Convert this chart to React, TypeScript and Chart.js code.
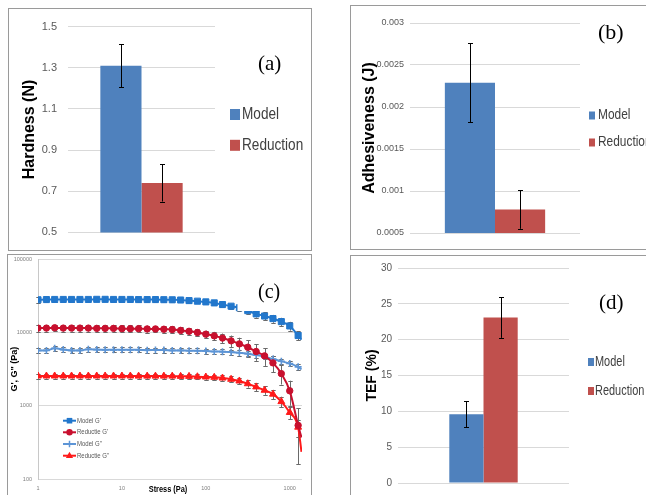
import React, { useEffect, useRef } from 'react';
import { Chart, registerables } from 'chart.js';

Chart.register(...registerables);

// ---------------- data ----------------
const barCategories = [''];
const seriesNames = ['Model', 'Reduction'];

const hardness = [1.31, 0.74];
const hardnessErr = [0.105, 0.09];
const hardnessTicks = [0.5, 0.7, 0.9, 1.1, 1.3, 1.5];

const adhesiveness = [0.00229, 0.00078];
const adhesivenessErr = [0.00047, 0.00023];
const adhesivenessTicks = [0.0005, 0.001, 0.0015, 0.002, 0.0025, 0.003];

const tef = [9.6, 23.1];
const tefErr = [1.8, 2.85];
const tefTicks = [0, 5, 10, 15, 20, 25, 30];

const lineNames = ["Model G'", "Reductie G'", 'Model G"', 'Reductie G"'];
const stress = [
  1, 1.26, 1.58, 2, 2.51, 3.16, 3.98, 5.01, 6.31, 7.94, 10, 12.6, 15.8, 20, 25.1, 31.6,
  39.8, 50.1, 63.1, 79.4, 100, 126, 158, 200, 251, 316, 398, 501, 631, 794, 1000, 1259,
];
const modelGp = [
  28000, 28200, 28300, 28300, 28300, 28300, 28300, 28400, 28400, 28300, 28300, 28300, 28200, 28200,
  28200, 28100, 28000, 27800, 27300, 26800, 26200, 25400, 24100, 22900, 21800, 19900, 18000, 16800,
  15500, 14100, 12300, 9100,
];
const modelGpErr = [
  2400, 1800, 1800, 1800, 1800, 1800, 1800, 1800, 1800, 1800, 1800, 1800, 1800, 1800, 1800, 1800,
  1800, 1800, 1800, 1800, 1800, 1800, 1800, 1800, 1900, 1900, 2000, 2000, 1900, 1800, 1700, 1300,
];
const reductieGp = [
  11500, 11500, 11600, 11500, 11500, 11500, 11500, 11400, 11400, 11400, 11300, 11300, 11300, 11200,
  11200, 11100, 11000, 10700, 10400, 10000, 9500, 9000, 8400, 7700, 7000, 6300, 5500, 4800, 3850,
  2750, 1600, 540,
];
const reductieGpErr = [
  1200, 1200, 1200, 1200, 1200, 1200, 1200, 1200, 1200, 1200, 1200, 1200, 1200, 1200, 1100, 1100,
  1100, 1100, 1100, 1100, 1100, 1200, 1300, 1400, 1500, 1500, 1400, 1300, 1000, 800, 600, 380,
];
const modelGpp = [
  5700, 5700, 6100, 5850, 5700, 5700, 5900, 5850, 5800, 5800, 5800, 5800, 5800, 5750, 5770, 5770,
  5700, 5700, 5650, 5650, 5600, 5500, 5480, 5400, 5300, 5150, 4930, 4690, 4360, 4060, 3770, 3400,
];
const modelGppErr = [
  450, 450, 450, 450, 450, 450, 450, 450, 450, 450, 450, 450, 450, 450, 450, 450, 450, 450, 450,
  450, 450, 450, 450, 450, 450, 450, 400, 400, 380, 350, 330, 300,
];
const reductieGpp = [
  2550, 2550, 2550, 2550, 2550, 2550, 2550, 2550, 2550, 2550, 2550, 2550, 2540, 2540, 2540, 2540,
  2540, 2520, 2520, 2490, 2470, 2450, 2390, 2300, 2180, 2000, 1810, 1630, 1440, 1140, 810, 510,
];
const reductieGppErr = [
  200, 200, 200, 200, 200, 200, 200, 200, 200, 200, 200, 200, 200, 200, 200, 200, 200, 200, 200,
  200, 200, 200, 200, 210, 220, 230, 230, 220, 210, 190, 160, 130,
];
const trendEndStress = 1380;
const trendEnd = [8000, 370, 3130, 235];
const stressTicks = [1, 10, 100, 1000];
const modulusTicks = [100, 1000, 10000, 100000];

// ---------------- styling ----------------
const SANS = '"Liberation Sans", Arial, sans-serif';
const SERIF = '"Liberation Serif", "Times New Roman", serif';
const BAR_COLORS = ['#4f81bd', '#c0504d'];
const LINE_COLORS = ['#2277cc', '#c8102e', '#5d95d6', '#ff1a1a'];
const LINE_MARKERS = ['rect', 'circle', 'cross', 'triangle'];

type Box = { x: number; y: number; w: number; h: number };
type Area = { l: number; t: number; r: number; b: number };

function drawErr(chart: any, o: any) {
  const ctx = chart.ctx;
  ctx.save();
  ctx.strokeStyle = o.color;
  ctx.lineWidth = o.width || 1;
  chart.data.datasets.forEach((ds: any, di: number) => {
    const errs = ds.errors;
    if (!errs) return;
    const meta = chart.getDatasetMeta(di);
    const ys = chart.scales[meta.yAxisID];
    meta.data.forEach((el: any, i: number) => {
      const e = errs[i];
      if (e == null) return;
      const raw = ds.data[i];
      const v = typeof raw === 'number' ? raw : raw.y;
      const x = Math.round(el.x) + 0.5;
      const y1 = ys.getPixelForValue(v + e);
      const y2 = ys.getPixelForValue(v - e);
      ctx.beginPath();
      ctx.moveTo(x, y1);
      ctx.lineTo(x, y2);
      ctx.moveTo(x - o.cap, Math.round(y1) + 0.5);
      ctx.lineTo(x + o.cap, Math.round(y1) + 0.5);
      ctx.moveTo(x - o.cap, Math.round(y2) + 0.5);
      ctx.lineTo(x + o.cap, Math.round(y2) + 0.5);
      ctx.stroke();
    });
  });
  ctx.restore();
}

const errorBars = {
  id: 'errorBars',
  beforeDatasetsDraw(chart: any, _a: any, o: any) {
    if (o && o.under) drawErr(chart, o);
  },
  afterDatasetsDraw(chart: any, _a: any, o: any) {
    if (o && !o.under) drawErr(chart, o);
  },
};

function drawMarker(ctx: CanvasRenderingContext2D, style: string, x: number, y: number, r: number, color: string) {
  ctx.save();
  ctx.fillStyle = color;
  ctx.strokeStyle = color;
  ctx.lineWidth = 1.5;
  ctx.beginPath();
  if (style === 'rect') {
    ctx.rect(x - r * 0.7, y - r * 0.7, r * 1.4, r * 1.4);
    ctx.fill();
  } else if (style === 'circle') {
    ctx.arc(x, y, r * 0.8, 0, Math.PI * 2);
    ctx.fill();
  } else if (style === 'triangle') {
    ctx.moveTo(x, y - r);
    ctx.lineTo(x + r * 0.9, y + r * 0.6);
    ctx.lineTo(x - r * 0.9, y + r * 0.6);
    ctx.closePath();
    ctx.fill();
  } else {
    ctx.moveTo(x - r * 0.8, y);
    ctx.lineTo(x + r * 0.8, y);
    ctx.moveTo(x, y - r * 0.8);
    ctx.lineTo(x, y + r * 0.8);
    ctx.stroke();
  }
  ctx.restore();
}

function squeezedText(
  ctx: CanvasRenderingContext2D,
  text: string,
  x: number,
  y: number,
  sx: number,
  align: CanvasTextAlign,
) {
  ctx.save();
  ctx.translate(x, y);
  ctx.scale(sx, 1);
  ctx.textAlign = align;
  ctx.textBaseline = 'middle';
  ctx.fillText(text, 0, 0);
  ctx.restore();
}

// decorations: legends, panel letters, extra titles
const deco = {
  id: 'deco',
  afterDraw(chart: any, _a: any, o: any) {
    const ctx = chart.ctx;
    ctx.save();
    if (o.whiteBox) {
      const b = o.whiteBox;
      ctx.fillStyle = '#ffffff';
      ctx.fillRect(b.x, b.y, b.w, b.h);
    }
    if (o.barLegend) {
      const L = o.barLegend;
      chart.data.datasets.forEach((ds: any, i: number) => {
        const y = L.rows[i];
        ctx.fillStyle = ds.backgroundColor;
        ctx.fillRect(L.boxX, y - L.boxH / 2, L.boxW, L.boxH);
        ctx.fillStyle = L.color;
        ctx.font = L.font;
        squeezedText(ctx, ds.label, L.textX, y, L.sx, 'left');
      });
    }
    if (o.lineLegend) {
      const L = o.lineLegend;
      chart.data.datasets.forEach((ds: any, i: number) => {
        const y = L.rows[i];
        ctx.strokeStyle = ds.borderColor;
        ctx.lineWidth = 2;
        ctx.beginPath();
        ctx.moveTo(L.x0, y);
        ctx.lineTo(L.x1, y);
        ctx.stroke();
        drawMarker(ctx, ds.pointStyle, (L.x0 + L.x1) / 2, y, 4, ds.borderColor);
        ctx.fillStyle = L.color;
        ctx.font = L.font;
        squeezedText(ctx, ds.label, L.textX, y, L.sx, 'left');
      });
    }
    if (o.texts) {
      o.texts.forEach((t: any) => {
        ctx.font = t.font;
        ctx.fillStyle = t.color || '#000';
        squeezedText(ctx, t.text, t.x, t.y, t.sx || 1, t.align || 'left');
      });
    }
    ctx.restore();
  },
};

function tickSetter(values: number[]) {
  return (s: any) => {
    s.ticks = values.map((v) => ({ value: v }));
  };
}

function barConfig(opts: {
  box: Box;
  area: Area;
  values: number[];
  errors: number[];
  ticks: number[];
  tickFont: number;
  tickPad: number;
  fmt: (v: number) => string;
  title: string;
  titleSize: number;
  titleCenterX: number;
  catPct: number;
  deco: any;
}) {
  const { box, area } = opts;
  const lh = opts.titleSize * 1.2;
  return {
    type: 'bar',
    data: {
      labels: barCategories,
      datasets: seriesNames.map((name, i) => ({
        label: name,
        data: [opts.values[i]],
        errors: [opts.errors[i]],
        backgroundColor: BAR_COLORS[i],
        borderWidth: 0,
        categoryPercentage: opts.catPct,
        barPercentage: 1,
      })),
    },
    options: {
      responsive: false,
      animation: false,
      devicePixelRatio: 1,
      layout: {
        padding: {
          left: 0,
          right: box.x + box.w - area.r,
          top: area.t - box.y,
          bottom: box.y + box.h - area.b,
        },
      },
      scales: {
        x: { display: false },
        y: {
          min: opts.ticks[0],
          max: opts.ticks[opts.ticks.length - 1],
          afterBuildTicks: tickSetter(opts.ticks),
          afterFit: (s: any) => {
            s.width = area.l - box.x;
          },
          ticks: {
            font: { family: SANS, size: opts.tickFont },
            color: '#595959',
            padding: opts.tickPad,
            callback: (v: any) => opts.fmt(Number(v)),
          },
          grid: { color: '#d9d9d9', drawTicks: false },
          border: { display: false },
          title: {
            display: true,
            text: opts.title,
            color: '#000',
            font: { family: SANS, size: opts.titleSize, weight: 'bold' },
            padding: { top: opts.titleCenterX - box.x - lh / 2, bottom: 0 },
          },
        },
      },
      plugins: {
        legend: { display: false },
        tooltip: { enabled: false },
        errorBars: { color: '#000', width: 1, cap: 2.5, under: false },
        deco: opts.deco,
      },
    },
    plugins: [errorBars, deco],
  };
}

function lineConfig() {
  const box: Box = { x: 8, y: 250, w: 303, h: 245 };
  const area: Area = { l: 38, t: 257, r: 302, b: 479 };
  const series = [modelGp, reductieGp, modelGpp, reductieGpp];
  const errs = [modelGpErr, reductieGpErr, modelGppErr, reductieGppErr];
  const radii = [4.3, 3.2, 3.5, 4];
  const titleSize = 9;
  const rel = (x: number, y: number) => ({ x: x - box.x, y: y - box.y });
  const legRows = [420.7, 432.3, 444, 455.7].map((y) => y - box.y);
  return {
    type: 'line',
    data: {
      datasets: series.map((vals, si) => ({
        label: lineNames[si],
        data: stress
          .map((s, i) => ({ x: s, y: vals[i] }))
          .concat([{ x: trendEndStress, y: trendEnd[si] }]),
        errors: errs[si],
        borderColor: LINE_COLORS[si],
        backgroundColor: LINE_COLORS[si],
        borderWidth: 2,
        cubicInterpolationMode: 'monotone',
        pointStyle: LINE_MARKERS[si],
        pointRadius: (c: any) => (c.dataIndex < stress.length ? radii[si] : 0),
        pointBorderWidth: si === 2 ? 1.6 : 1,
        pointBorderColor: LINE_COLORS[si],
        pointBackgroundColor: LINE_COLORS[si],
      })),
    },
    options: {
      responsive: false,
      animation: false,
      devicePixelRatio: 1,
      layout: {
        padding: { left: 0, right: box.x + box.w - area.r, top: area.t - box.y, bottom: 0 },
      },
      scales: {
        x: {
          type: 'logarithmic',
          min: stressTicks[0],
          max: 1400,
          afterBuildTicks: tickSetter(stressTicks),
          afterFit: (s: any) => {
            s.height = box.y + box.h - area.b;
          },
          ticks: {
            font: { family: SANS, size: 5.5 },
            color: '#7f7f7f',
            padding: 6,
            maxRotation: 0,
            autoSkip: false,
            callback: (v: any) => String(v),
          },
          grid: { display: false, drawTicks: false },
          border: { display: false },
        },
        y: {
          type: 'logarithmic',
          min: modulusTicks[0],
          max: modulusTicks[modulusTicks.length - 1],
          afterBuildTicks: tickSetter(modulusTicks),
          afterFit: (s: any) => {
            s.width = area.l - box.x;
          },
          ticks: {
            font: { family: SANS, size: 5.5 },
            color: '#7f7f7f',
            padding: 6,
            callback: (v: any) => String(v),
          },
          grid: { color: '#d9d9d9', drawTicks: false },
          border: { display: true, color: '#c8c8c8' },
          title: {
            display: true,
            text: 'G\', G" (Pa)',
            color: '#000',
            font: { family: SANS, size: titleSize, weight: 'bold' },
            padding: { top: 15 - box.x - (titleSize * 1.2) / 2, bottom: 0 },
          },
        },
      },
      plugins: {
        legend: { display: false },
        tooltip: { enabled: false },
        errorBars: { color: '#6a6a6a', width: 1, cap: 2.2, under: true },
        deco: {
          whiteBox: { ...rel(237.5, 265), w: 54, h: 46 },
          lineLegend: {
            rows: legRows,
            x0: 63 - box.x,
            x1: 76 - box.x,
            textX: 77 - box.x,
            font: `7.5px ${SANS}`,
            sx: 0.8,
            color: '#595959',
          },
          texts: [
            { text: '(c)', ...rel(258, 293), font: `20px ${SERIF}` },
            {
              text: 'Stress (Pa)',
              ...rel(168, 489.5),
              align: 'center',
              sx: 0.82,
              font: `bold 9px ${SANS}`,
            },
          ],
        },
      },
    },
    plugins: [errorBars, deco],
  };
}

function configA() {
  const box: Box = { x: 9, y: 9, w: 302, h: 241 };
  const area: Area = { l: 68, t: 24, r: 215, b: 236 };
  return barConfig({
    box,
    area,
    values: hardness,
    errors: hardnessErr,
    ticks: hardnessTicks,
    tickFont: 11,
    tickPad: 11,
    fmt: (v) => v.toFixed(1),
    title: 'Hardness (N)',
    titleSize: 16,
    titleCenterX: 30,
    catPct: 0.56,
    deco: {
      barLegend: {
        rows: [114.5 - box.y, 145.3 - box.y],
        boxX: 230 - box.x,
        boxW: 10,
        boxH: 11,
        textX: 242 - box.x,
        font: `17px ${SANS}`,
        sx: 0.8,
        color: '#404040',
      },
      texts: [{ text: '(a)', x: 258 - box.x, y: 64 - box.y, font: `21px ${SERIF}` }],
    },
  });
}

function configB() {
  const box: Box = { x: 351, y: 6, w: 295, h: 243 };
  const area: Area = { l: 410, t: 23, r: 580, b: 233 };
  return barConfig({
    box,
    area,
    values: adhesiveness,
    errors: adhesivenessErr,
    ticks: adhesivenessTicks,
    tickFont: 9,
    tickPad: 6,
    fmt: (v) => String(parseFloat(v.toFixed(4))),
    title: 'Adhesiveness (J)',
    titleSize: 16,
    titleCenterX: 370,
    catPct: 0.59,
    deco: {
      barLegend: {
        rows: [115.5 - box.y, 142.5 - box.y],
        boxX: 589 - box.x,
        boxW: 6,
        boxH: 8,
        textX: 598 - box.x,
        font: `14px ${SANS}`,
        sx: 0.85,
        color: '#404040',
      },
      texts: [{ text: '(b)', x: 598 - box.x, y: 33 - box.y, font: `22px ${SERIF}` }],
    },
  });
}

function configD() {
  const box: Box = { x: 351, y: 256, w: 295, h: 239 };
  const area: Area = { l: 398, t: 268, r: 569, b: 485 };
  return barConfig({
    box,
    area,
    values: tef,
    errors: tefErr,
    ticks: tefTicks,
    tickFont: 10,
    tickPad: 6,
    fmt: (v) => String(v),
    title: 'TEF (%)',
    titleSize: 14,
    titleCenterX: 371.7,
    catPct: 0.4,
    deco: {
      barLegend: {
        rows: [362 - box.y, 391 - box.y],
        boxX: 588 - box.x,
        boxW: 6,
        boxH: 8,
        textX: 595 - box.x,
        font: `15px ${SANS}`,
        sx: 0.73,
        color: '#404040',
      },
      texts: [{ text: '(d)', x: 599 - box.x, y: 303 - box.y, font: `21px ${SERIF}` }],
    },
  });
}

function Panel(props: { box: Box; make: () => any }) {
  const ref = useRef<HTMLCanvasElement | null>(null);
  useEffect(() => {
    if (!ref.current) return;
    const chart = new Chart(ref.current, props.make() as any);
    return () => chart.destroy();
  }, []);
  const { box } = props;
  return (
    <canvas
      ref={ref}
      width={box.w}
      height={box.h}
      style={{
        position: 'absolute',
        left: box.x,
        top: box.y,
        width: box.w,
        height: box.h,
        display: 'block',
      }}
    />
  );
}

const frame = (l: number, t: number, w: number, h: number): React.CSSProperties => ({
  position: 'absolute',
  left: l,
  top: t,
  width: w,
  height: h,
  border: '1px solid #9a9a9a',
  boxSizing: 'border-box',
  background: '#fff',
});

export default function App() {
  return (
    <div
      style={{
        position: 'fixed',
        left: 0,
        top: 0,
        width: 646,
        height: 495,
        overflow: 'hidden',
        background: '#fff',
      }}
    >
      <div style={frame(8, 8, 304, 243)} />
      <div style={frame(350, 5, 300, 245)} />
      <div style={frame(7, 254, 305, 250)} />
      <div style={frame(350, 255, 300, 250)} />
      <Panel box={{ x: 9, y: 9, w: 302, h: 241 }} make={configA} />
      <Panel box={{ x: 351, y: 6, w: 295, h: 243 }} make={configB} />
      <Panel box={{ x: 8, y: 250, w: 303, h: 245 }} make={lineConfig} />
      <Panel box={{ x: 351, y: 256, w: 295, h: 239 }} make={configD} />
    </div>
  );
}
